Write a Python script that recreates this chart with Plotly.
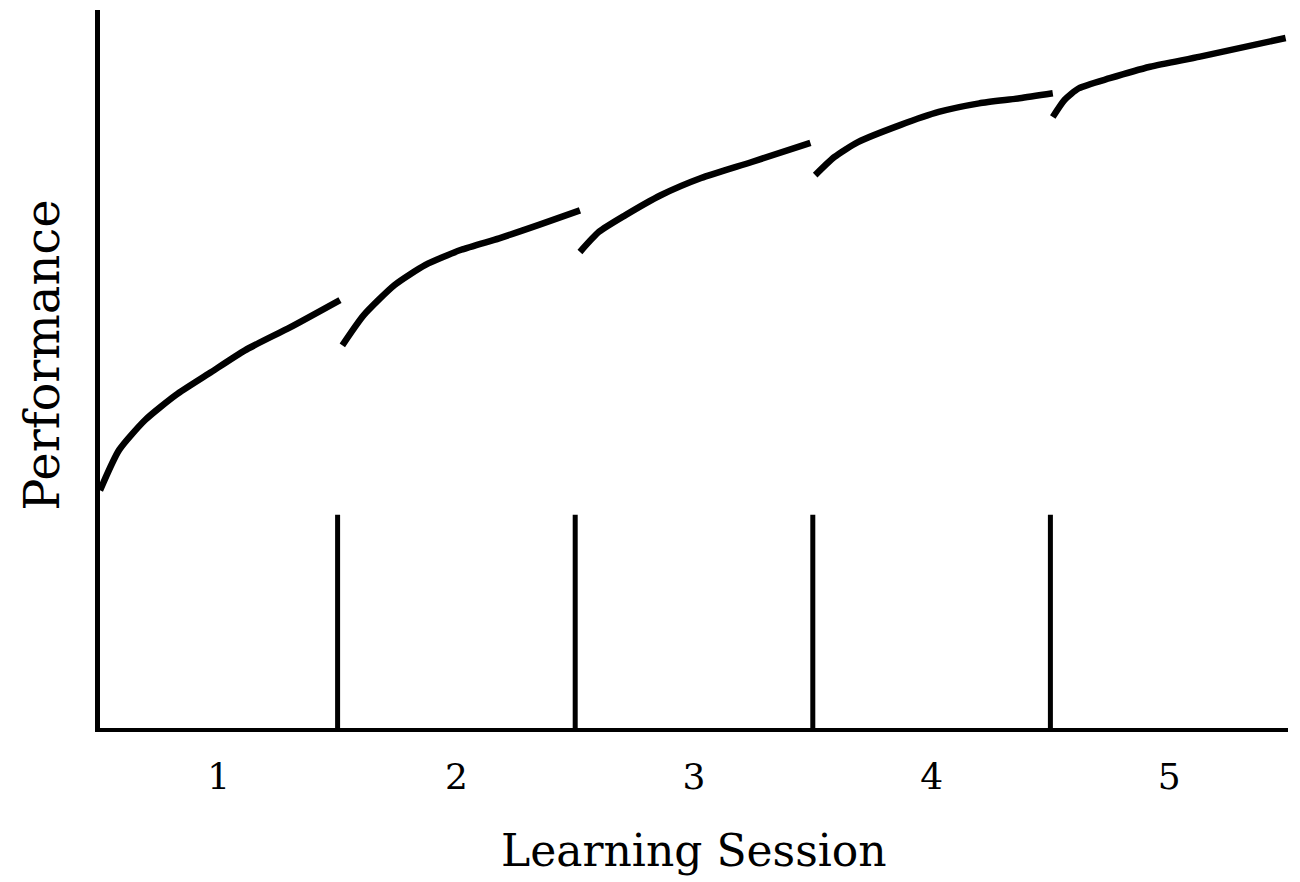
import plotly.graph_objects as go

# Sesiones de aprendizaje (cada curva es una sesion)
sessions = [1, 2, 3, 4, 5]

s1_x = [0.50, 0.58, 0.69, 0.82, 0.96, 1.11, 1.30, 1.51]
s1_y = [33.1, 38.7, 42.9, 46.4, 49.4, 52.6, 55.8, 59.6]

s2_x = [1.52, 1.61, 1.74, 1.87, 2.02, 2.18, 2.35, 2.52]
s2_y = [53.3, 57.5, 61.7, 64.5, 66.6, 68.2, 70.1, 72.1]

s3_x = [2.52, 2.60, 2.71, 2.86, 3.03, 3.24, 3.49]
s3_y = [66.3, 69.1, 71.4, 74.2, 76.6, 78.8, 81.5]

s4_x = [3.51, 3.59, 3.69, 3.87, 4.03, 4.20, 4.37, 4.51]
s4_y = [77.0, 79.5, 81.6, 84.0, 85.8, 87.0, 87.7, 88.4]

s5_x = [4.51, 4.56, 4.62, 4.75, 4.92, 5.13, 5.49]
s5_y = [85.1, 87.5, 89.1, 90.5, 92.1, 93.5, 96.1]

# Separadores entre sesiones
divider_x = [1.5, 2.5, 3.5, 4.5]
divider_top = 29.7

fig = go.Figure()

for xs, ys in [(s1_x, s1_y), (s2_x, s2_y), (s3_x, s3_y), (s4_x, s4_y), (s5_x, s5_y)]:
    fig.add_trace(go.Scatter(
        x=xs, y=ys, mode='lines',
        line=dict(color='black', width=6.5, shape='spline', smoothing=0.6),
        hoverinfo='skip'
    ))

# lineas verticales
dx, dy = [], []
for x in divider_x:
    dx += [x, x, None]
    dy += [0, divider_top, None]
fig.add_trace(go.Scatter(x=dx, y=dy, mode='lines',
                         line=dict(color='black', width=5), hoverinfo='skip'))

fig.update_layout(
    width=1292, height=874,
    showlegend=False,
    plot_bgcolor='white', paper_bgcolor='white',
    margin=dict(l=92, r=12, t=2, b=154),
    font=dict(family='DejaVu Serif', color='black'),
    xaxis=dict(
        range=[0.5, 5.5], showgrid=False, zeroline=False,
        showline=True, linecolor='black', linewidth=4,
        tickvals=sessions, ticktext=[str(s) for s in sessions],
        ticks='', ticklabelstandoff=14,
        tickfont=dict(size=36, family='DejaVu Serif'),
    ),
    yaxis=dict(
        range=[0, 100], showgrid=False, zeroline=False,
        showline=True, linecolor='black', linewidth=5,
        showticklabels=False, ticks='',
    ),
    annotations=[
        dict(text='Learning Session', xref='paper', yref='paper',
             x=0.5, y=-0.17, xanchor='center', yanchor='middle',
             showarrow=False, font=dict(size=44, family='DejaVu Serif')),
        dict(text='Performance', xref='paper', yref='paper',
             x=-0.049, y=0.5195, xanchor='center', yanchor='middle',
             textangle=-90, showarrow=False, borderpad=0,
             font=dict(size=48, family='DejaVu Serif')),
    ],
)

fig.write_html('out.html')
